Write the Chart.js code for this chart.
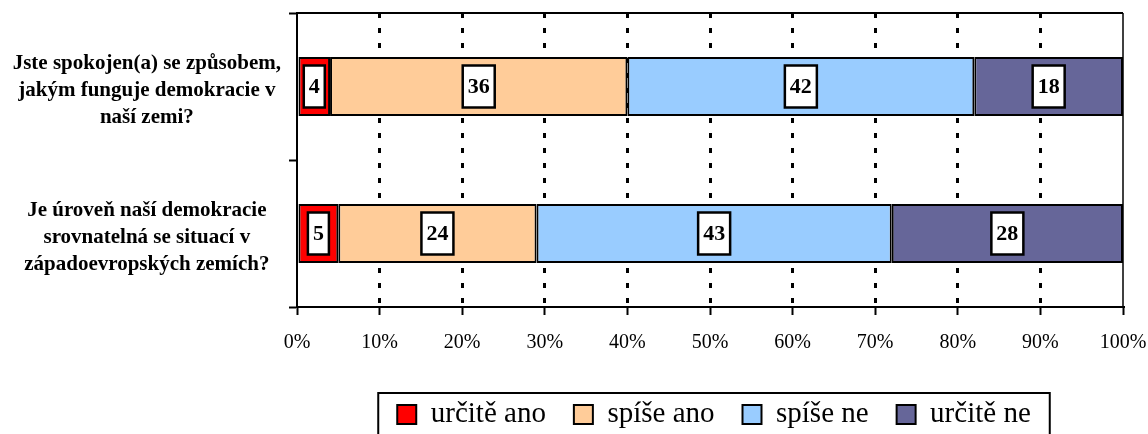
<!DOCTYPE html>
<html>
<head>
<meta charset="utf-8">
<script src="https://cdn.jsdelivr.net/npm/chart.js@4.4.1/dist/chart.umd.min.js"></script>
<style>
  html, body { margin: 0; padding: 0; background: #fff; overflow: hidden; }
  #wrap { width: 1148px; height: 434px; }
</style>
</head>
<body>
<div id="wrap"><canvas id="chart" width="1148" height="434"></canvas></div>
<script>
// Questions (y categories)
const questions = [
    ['Jste spokojen(a) se způsobem,', 'jakým funguje demokracie v', 'naší zemi?'],
    ['Je úroveň naší demokracie', 'srovnatelná se situací v', 'západoevropských zemích?'],
];

// Answer series, percent
const seriesNames = ['určitě ano', 'spíše ano', 'spíše ne', 'určitě ne'];
const urciteAno = [4, 5];
const spiseAno = [36, 24];
const spiseNe = [42, 43];
const urciteNe = [18, 28];
const seriesColors = ['#FF0000', '#FFCC99', '#99CCFF', '#666699'];

// x axis ticks
const xTicks = [0, 10, 20, 30, 40, 50, 60, 70, 80, 90, 100];

const serif = "'Liberation Serif', 'DejaVu Serif', serif";

/**
 * White boxed value labels in the middle of each segment
 */
const boxLabels = {
    id: 'boxLabels',
    afterDatasetsDraw(chart) {
        const ctx = chart.ctx;
        ctx.save();
        ctx.font = 'bold 22px ' + serif;
        ctx.textAlign = 'center';
        ctx.textBaseline = 'middle';
        chart.data.datasets.forEach((ds, i) => {
            const meta = chart.getDatasetMeta(i);
            meta.data.forEach((bar, j) => {
                const text = String(ds.data[j]);
                const c = bar.getCenterPoint();
                const w = ctx.measureText(text).width + 10;
                const h = 42;
                ctx.fillStyle = '#fff';
                ctx.fillRect(c.x - w / 2, c.y - h / 2, w, h);
                ctx.lineWidth = 2.5;
                ctx.strokeStyle = '#000';
                ctx.strokeRect(c.x - w / 2, c.y - h / 2, w, h);
                ctx.fillStyle = '#000';
                ctx.fillText(text, c.x, c.y + 1);
            });
        });
        ctx.restore();
    },
};

/**
 * Plot frame (top and right), legend placement and legend border
 */
const frame = {
    id: 'frame',
    afterLayout(chart) {
        // move legend under the plot like in the original sheet
        const lg = chart.legend;
        const dx = 714 - (lg.left + lg.right) / 2;
        lg.left += dx;
        lg.right += dx;
        lg.top += 5;
        lg.bottom += 5;
    },
    afterDraw(chart) {
        const ctx = chart.ctx;
        const a = chart.chartArea;
        ctx.save();
        ctx.strokeStyle = '#000';
        ctx.lineWidth = 2;
        ctx.beginPath();
        ctx.moveTo(a.left, a.top);
        ctx.lineTo(a.right, a.top);
        ctx.stroke();
        ctx.lineWidth = 1.5;
        ctx.beginPath();
        ctx.moveTo(a.right, a.top);
        ctx.lineTo(a.right, a.bottom);
        ctx.stroke();

        // legend border
        const boxes = chart.legend.legendHitBoxes;
        if (boxes && boxes.length) {
            const left = boxes[0].left - 19;
            const last = boxes[boxes.length - 1];
            const right = last.left + last.width + 19;
            const top = boxes[0].top - 7;
            ctx.lineWidth = 2;
            ctx.beginPath();
            ctx.moveTo(left, chart.height + 5);
            ctx.lineTo(left, top);
            ctx.lineTo(right, top);
            ctx.lineTo(right, chart.height + 5);
            ctx.stroke();
        }
        ctx.restore();
    },
};

const datasets = [urciteAno, spiseAno, spiseNe, urciteNe].map((values, i) => ({
    label: seriesNames[i],
    data: values,
    backgroundColor: seriesColors[i],
    borderColor: '#000',
    borderWidth: 2,
    borderSkipped: false,
    barPercentage: 0.4,
    categoryPercentage: 1.0,
}));

new Chart(document.getElementById('chart'), {
    type: 'bar',
    data: { labels: questions, datasets: datasets },
    options: {
        indexAxis: 'y',
        responsive: false,
        animation: false,
        layout: { padding: { top: 13, right: 25, left: 0, bottom: 0 } },
        plugins: {
            tooltip: { enabled: false },
            legend: {
                position: 'bottom',
                labels: {
                    color: '#000',
                    font: { family: serif, size: 29 },
                    boxWidth: 19,
                    boxHeight: 19,
                    padding: 28,
                },
            },
        },
        scales: {
            x: {
                stacked: true,
                min: 0,
                max: 100,
                afterBuildTicks(scale) {
                    scale.ticks = xTicks.map(v => ({ value: v }));
                },
                afterFit(scale) {
                    scale.height = 60;
                    scale.paddingLeft = 0;
                    scale.paddingRight = 0;
                },
                ticks: {
                    color: '#000',
                    font: { family: serif, size: 20 },
                    padding: 16,
                    callback: v => v + '%',
                },
                grid: {
                    color: c => (c.index === 0 || c.index === xTicks.length - 1) ? 'rgba(0,0,0,0)' : '#000',
                    lineWidth: 3,
                    tickColor: '#000',
                    tickWidth: 2,
                    tickLength: 8,
                    tickBorderDash: [],
                },
                border: { display: true, color: '#000', width: 2, dash: [5, 10] },
            },
            y: {
                stacked: true,
                afterFit(scale) {
                    scale.width = 297;
                    scale.paddingTop = 0;
                    scale.paddingBottom = 0;
                },
                ticks: {
                    color: '#000',
                    crossAlign: 'center',
                    labelOffset: 4,
                    font: { family: serif, size: 21, weight: 'bold', lineHeight: 1.27 },
                    padding: 8,
                },
                grid: {
                    offset: true,
                    drawOnChartArea: false,
                    color: '#000',
                    tickLength: 8,
                    tickWidth: 2,
                },
                border: { display: true, color: '#000', width: 2 },
            },
        },
    },
    plugins: [boxLabels, frame],
});
</script>
</body>
</html>
